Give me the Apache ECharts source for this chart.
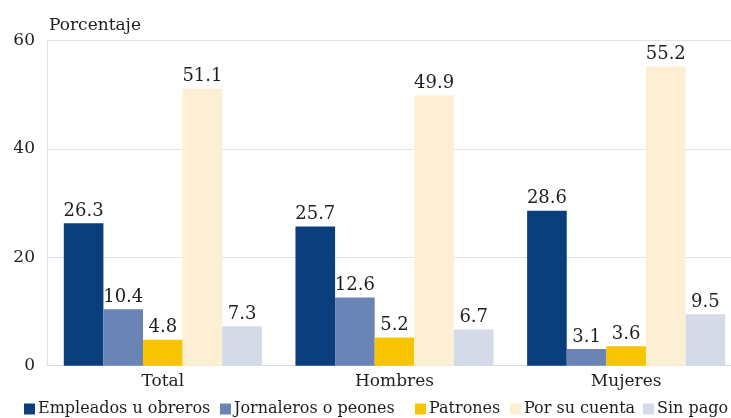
<!DOCTYPE html>
<html><head><meta charset="utf-8">
<script src="https://cdn.jsdelivr.net/npm/echarts@6/dist/echarts.min.js"></script>
<style>html,body{margin:0;padding:0;background:#fff;overflow:hidden}#c{width:742px;height:418px}</style>
</head><body><div id="c"></div>
<script>
var categories = ['Total', 'Hombres', 'Mujeres'];
var seriesNames = ['Empleados u obreros', 'Jornaleros o peones', 'Patrones', 'Por su cuenta', 'Sin pago'];
var empleados = [26.3, 25.7, 28.6];
var jornaleros = [10.4, 12.6, 3.1];
var patrones = [4.8, 5.2, 3.6];
var porSuCuenta = [51.1, 49.9, 55.2];
var sinPago = [7.3, 6.7, 9.5];
var yTicks = [0, 20, 40, 60];

var colors = ['#0b3e7d', '#6a85b5', '#f6c500', '#fdefd3', '#d4dae8'];
var values = [empleados, jornaleros, patrones, porSuCuenta, sinPago];
var legendLeft = [24, 220, 415, 510, 643];
var FONT = 'DejaVu Serif';
var TXT = '#1e1e1e';

var chart = echarts.init(document.getElementById('c'));
chart.setOption({
  animation: false,
  color: colors,
  grid: { left: 47, width: 695, top: 40.5, bottom: 52.3, containLabel: false, outerBoundsMode: 'none' },
  legend: seriesNames.map(function (n, i) {
    return {
      left: legendLeft[i], top: 401, itemWidth: 11, itemHeight: 11, itemGap: 0,
      icon: 'rect', padding: 0,
      textStyle: { fontFamily: FONT, fontSize: 16, color: TXT, padding: [0, 0, 0, -2] },
      data: [n]
    };
  }),
  xAxis: {
    type: 'category', data: categories,
    axisLine: { lineStyle: { color: '#d8dee6' } },
    axisTick: { show: false },
    axisLabel: { fontFamily: FONT, fontSize: 17, color: TXT, margin: 7 }
  },
  yAxis: {
    type: 'value', min: 0, max: 60, interval: 20,
    name: 'Porcentaje',
    nameLocation: 'end',
    nameGap: 6,
    nameTextStyle: { fontFamily: FONT, fontSize: 17, color: TXT, align: 'left', padding: [0, 0, 0, 2] },
    axisLine: { show: true, lineStyle: { color: '#dde3ea' } },
    axisTick: { show: false },
    axisLabel: { fontFamily: FONT, fontSize: 17, color: TXT, margin: 12,
      formatter: function (v) { return yTicks.indexOf(v) >= 0 ? String(v) : ''; } },
    splitLine: { lineStyle: { color: '#dde3ea' } }
  },
  series: seriesNames.map(function (n, i) {
    return {
      name: n, type: 'bar', data: values[i],
      barGap: '0%', barCategoryGap: '14.5%',
      label: { show: true, position: 'top', distance: 3, fontFamily: FONT, fontSize: 18, color: TXT,
        formatter: function (p) { return p.value.toFixed(1); } }
    };
  })
});
</script></body></html>
